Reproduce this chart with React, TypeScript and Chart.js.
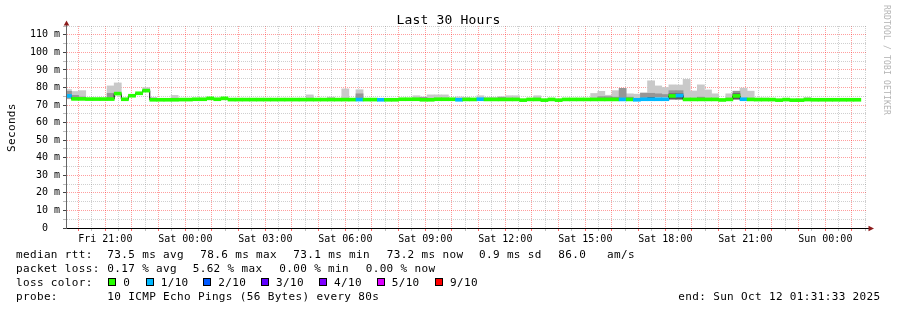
import React, { useEffect, useRef } from 'react';
import { Chart, registerables } from 'chart.js';

Chart.register(...registerables);

// ---------------- data ----------------
const TITLE = 'Last 30 Hours';
const Y_AXIS_TITLE = 'Seconds';
const WATERMARK = 'RRDTOOL / TOBI OETIKER';

// times in seconds since Fri 00:00
const WINDOW_START_S = 19 * 3600 + 31 * 60 + 33; // Fri 19:31:33
const WINDOW_HOURS = 30;
const STEP_S = 960; // one consolidated sample = 16 min
const FIRST_STEP_END_S = 19 * 3600 + 44 * 60; // Fri 19:44:00
const FIRST_TICK_S = 20 * 3600; // Fri 20:00
const TICK_EVERY_S = 1800;
const FIRST_LABEL_S = 21 * 3600; // Fri 21:00
const LABEL_EVERY_S = 10800;

const xTickLabels = [
  'Fri 21:00', 'Sat 00:00', 'Sat 03:00', 'Sat 06:00', 'Sat 09:00',
  'Sat 12:00', 'Sat 15:00', 'Sat 18:00', 'Sat 21:00', 'Sun 00:00',
];

const Y_MAX = 115;
const Y_TICK_STEP = 5;
const Y_LABEL_STEP = 10;

// median rtt per sample (ms)
const medianRtt: (number | null)[] = [
  75.2, 73.5, 73.5, 73.4, 73.4, 73.4, 73.4, 76.5, 73.3, 75.3,
  76.7, 78.2, 73.0, 73.0, 73.0, 73.0, 73.1, 73.1, 73.3, 73.3,
  73.8, 73.3, 73.8, 73.1, 73.1, 73.1, 73.1, 73.1, 73.1, 73.1,
  73.1, 73.1, 73.1, 73.1, 73.1, 73.1, 73.1, 73.1, 73.1, 73.1,
  73.1, 73.1, 73.1, 73.1, 73.0, 73.0, 73.0, 73.3, 73.3, 73.3,
  73.0, 73.0, 73.3, 73.3, 73.3, 73.0, 73.2, 73.2, 73.3, 73.2,
  73.2, 73.2, 73.2, 73.2, 72.8, 73.2, 73.2, 72.8, 73.2, 72.8,
  73.2, 73.2, 73.2, 73.2, 73.2, 73.2, 73.2, 73.2, 73.2, 73.2,
  73.0, 73.3, 73.3, 73.3, 73.3, 75.2, 75.4, 73.2, 73.2, 73.2,
  73.2, 73.2, 72.9, 73.2, 75.2, 73.3, 73.2, 73.1, 73.1, 73.1,
  72.8, 73.1, 72.8, 72.8, 73.1, 73.0, 73.0, 73.0, 73.0, 73.0,
  73.0, 73.0, null,
];

// lost pings (of 10) per sample
const lossCount: (number | null)[] = [
  1, 0, 0, 0, 0, 0, 0, 0, 0, 0,
  0, 0, 0, 0, 0, 0, 0, 0, 0, 0,
  0, 0, 0, 0, 0, 0, 0, 0, 0, 0,
  0, 0, 0, 0, 0, 0, 0, 0, 0, 0,
  0, 1, 0, 0, 1, 0, 0, 0, 0, 0,
  0, 0, 0, 0, 0, 1, 0, 0, 1, 0,
  0, 0, 0, 0, 0, 0, 0, 0, 0, 0,
  0, 0, 0, 0, 0, 0, 0, 0, 1, 0,
  1, 1, 1, 1, 1, 0, 1, 0, 0, 0,
  0, 0, 0, 0, 0, 1, 0, 0, 0, 0,
  0, 0, 0, 0, 0, 0, 0, 0, 0, 0,
  0, 0, null,
];

// smoke: [sample, low ms, high ms]
const smokeOuter: [number, number, number][] = [
  [0, 73.5, 78.8], [1, 73.3, 77.7], [2, 73.3, 78.2], [6, 73.5, 80.9], [7, 77.0, 82.6],
  [11, 78.1, 79.9], [12, 73.0, 74.4], [15, 73.2, 75.5], [34, 73.3, 75.8], [37, 73.3, 74.5],
  [39, 73.3, 79.2], [41, 73.3, 78.7], [49, 73.3, 75.3], [50, 73.3, 74.6], [51, 73.3, 75.8],
  [52, 73.3, 75.8], [53, 73.3, 75.8], [55, 73.3, 74.6], [56, 73.3, 74.3], [58, 73.3, 75.3],
  [59, 73.3, 74.4], [60, 73.3, 74.4], [61, 73.3, 74.8], [62, 73.3, 75.3], [63, 73.3, 75.3],
  [66, 73.3, 75.3], [74, 73.3, 76.6], [75, 73.3, 77.8], [76, 73.3, 75.6], [77, 73.3, 78.2],
  [79, 74.5, 76.4], [80, 73.3, 76.2], [81, 73.3, 77.0], [82, 76.7, 83.8], [83, 76.4, 80.9],
  [84, 76.0, 80.0], [85, 78.2, 81.5], [86, 78.2, 81.4], [87, 73.9, 84.6], [88, 74.0, 78.0],
  [89, 74.0, 81.5], [90, 74.0, 78.6], [91, 73.7, 76.4], [93, 73.7, 76.4], [95, 74.0, 79.6],
  [96, 74.0, 77.9], [97, 73.3, 74.0], [98, 73.3, 74.0], [104, 73.3, 74.3],
];
const smokeMiddle: [number, number, number][] = [
  [0, 73.8, 77.8], [1, 73.3, 75.5], [2, 73.3, 74.6], [6, 73.5, 76.7], [41, 73.3, 76.4],
  [50, 73.3, 74.3], [61, 73.3, 74.3], [75, 73.3, 74.8], [76, 73.3, 74.8], [77, 73.3, 74.5],
  [78, 73.3, 79.5], [79, 73.3, 74.5], [81, 74.3, 76.7], [82, 74.4, 76.7], [83, 74.5, 76.4],
  [84, 74.5, 76.0], [85, 76.4, 78.2], [86, 76.4, 78.2], [89, 73.5, 74.5], [94, 76.5, 77.9],
];
const smokeInner: [number, number, number][] = [
  [82, 73.6, 74.4], [85, 73.3, 76.4], [86, 73.3, 76.4], [94, 73.3, 76.5],
];

const lossLegend = [
  { label: '0', min: 0, color: '#26ff00' },
  { label: '1/10', min: 1, color: '#00b8ff' },
  { label: '2/10', min: 2, color: '#0059ff' },
  { label: '3/10', min: 3, color: '#5e00ff' },
  { label: '4/10', min: 4, color: '#7e00ff' },
  { label: '5/10', min: 5, color: '#dd00ff' },
  { label: '9/10', min: 9, color: '#ff0000' },
];

const rttStats = ['73.5 ms avg', '78.6 ms max', '73.1 ms min', '73.2 ms now', '0.9 ms sd', '86.0   am/s'];
const lossStats = ['0.17 % avg', '5.62 % max', '0.00 % min', '0.00 % now'];
const PROBE_TEXT = '10 ICMP Echo Pings (56 Bytes) every 80s';
const END_TEXT = 'end: Sun Oct 12 01:31:33 2025';

// ---------------- layout / style ----------------
const W = 897;
const H = 310;
const FONT = "'DejaVu Sans Mono', monospace";
const MAJOR_GRID = 'rgba(255,0,0,0.38)';
const MINOR_GRID = 'rgba(128,128,128,0.38)';
const LINE_HALF = 0.85; // half thickness of median line in ms
const rttX = [107.3, 200.3, 293.3, 386.7, 479, 558.3];
const lossX = [107.3, 192.7, 279.3, 365.7];
const legendLabelX = [123.3, 160.7, 218.3, 276, 334, 391.7, 450];
const rowBase = [258.4, 272.4, 286.4, 300.4];

function lossColor(n: number | null | undefined) {
  let c = lossLegend[0].color;
  for (const l of lossLegend) if ((n ?? 0) >= l.min) c = l.color;
  return c;
}

const sampleCenter = (j: number) =>
  (FIRST_STEP_END_S + STEP_S * j - STEP_S / 2 - WINDOW_START_S) / 3600;

const isHour = (v: number) => {
  const s = WINDOW_START_S + v * 3600;
  const r = ((s % 3600) + 3600) % 3600;
  return r < 1 || r > 3599;
};

const arrowPlugin = {
  id: 'rrdArrows',
  afterDraw(chart: any) {
    const { ctx, chartArea: a } = chart;
    ctx.save();
    ctx.lineWidth = 1;
    const x = Math.round(a.left) + 0.5;
    ctx.strokeStyle = '#666';
    ctx.beginPath();
    ctx.moveTo(x, a.top);
    ctx.lineTo(x, a.top - 2);
    ctx.stroke();
    ctx.fillStyle = '#8c1c1c';
    ctx.beginPath();
    ctx.moveTo(x, a.top - 5.5);
    ctx.lineTo(x - 2.8, a.top - 0.5);
    ctx.lineTo(x + 2.8, a.top - 0.5);
    ctx.closePath();
    ctx.fill();
    const y = Math.round(a.bottom) + 0.5;
    ctx.strokeStyle = '#000';
    ctx.beginPath();
    ctx.moveTo(a.right, y);
    ctx.lineTo(a.right + 3, y);
    ctx.stroke();
    ctx.beginPath();
    ctx.moveTo(a.right + 8, y);
    ctx.lineTo(a.right + 2.5, y - 2.8);
    ctx.lineTo(a.right + 2.5, y + 2.8);
    ctx.closePath();
    ctx.fill();
    ctx.restore();
  },
};

function Txt(props: { x: number; base: number; size: number; ls?: number; children: any; style?: any }) {
  const { x, base, size, ls = 0, children, style } = props;
  return (
    <div
      style={{
        position: 'absolute',
        left: x,
        top: base - 0.846 * size,
        fontSize: size,
        lineHeight: `${size}px`,
        letterSpacing: ls,
        whiteSpace: 'pre',
        fontFamily: FONT,
        color: '#000',
        ...style,
      }}
    >
      {children}
    </div>
  );
}

export default function App() {
  const ref = useRef<HTMLCanvasElement | null>(null);

  useEffect(() => {
    const canvas = ref.current;
    if (!canvas) return;

    const smokeData = (rows: [number, number, number][]) =>
      rows.map(([j, lo, hi]) => ({ x: sampleCenter(j), y: [lo, hi] }));

    const medianBars = medianRtt.flatMap((m, j) =>
      m == null ? [] : [{ x: sampleCenter(j), y: [m - LINE_HALF, m + LINE_HALF], j }]
    );
    const medianLine = medianRtt.map((m, j) => ({ x: sampleCenter(j), y: m }));

    const barCommon = {
      type: 'bar' as const,
      grouped: false,
      barPercentage: 1,
      categoryPercentage: 1,
      borderWidth: 0,
      clip: 0,
    };

    const chart = new Chart(canvas, {
      type: 'bar',
      data: {
        datasets: [
          {
            ...barCommon,
            label: 'median',
            data: medianBars as any,
            backgroundColor: (c: any) => lossColor(lossCount[c.raw?.j]),
            order: 0,
          },
          {
            type: 'line',
            label: 'median-step',
            data: medianLine as any,
            stepped: 'middle',
            borderColor: '#000',
            borderWidth: 1,
            pointRadius: 0,
            spanGaps: false,
            clip: 0,
            order: 1,
          } as any,
          { ...barCommon, label: 'smoke-inner', data: smokeData(smokeInner) as any, backgroundColor: '#5a5a5a', order: 2 },
          { ...barCommon, label: 'smoke-middle', data: smokeData(smokeMiddle) as any, backgroundColor: '#969696', order: 3 },
          { ...barCommon, label: 'smoke-outer', data: smokeData(smokeOuter) as any, backgroundColor: '#c9c9c9', order: 4 },
        ] as any,
      },
      options: {
        animation: false,
        responsive: false,
        devicePixelRatio: 1,
        events: [],
        layout: { padding: { left: 0, right: 31, top: 26, bottom: 0 }, autoPadding: false } as any,
        plugins: {
          legend: { display: false },
          tooltip: { enabled: false },
          title: { display: false },
        },
        scales: {
          x: {
            type: 'linear',
            min: 0,
            max: WINDOW_HOURS,
            offset: false,
            afterBuildTicks: (scale: any) => {
              const ticks: any[] = [];
              for (let s = FIRST_TICK_S; s < WINDOW_START_S + WINDOW_HOURS * 3600; s += TICK_EVERY_S) {
                ticks.push({ value: (s - WINDOW_START_S) / 3600 });
              }
              scale.ticks = ticks;
            },
            afterFit: (scale: any) => {
              scale.height = H - 228;
            },
            grid: {
              offset: false,
              color: (c: any) => (isHour(c.tick?.value ?? 0) ? MAJOR_GRID : MINOR_GRID),
              tickColor: (c: any) => (isHour(c.tick?.value ?? 0) ? 'rgba(255,0,0,0.6)' : 'rgba(128,128,128,0.5)'),
              lineWidth: 1,
              tickLength: 3,
              tickBorderDash: [],
            },
            border: { color: '#000', width: 1, dash: [1, 1], z: 1 } as any,
            ticks: {
              autoSkip: false,
              maxRotation: 0,
              minRotation: 0,
              padding: 2,
              color: '#000',
              font: { family: FONT, size: 10 },
              callback: (value: any) => {
                const s = WINDOW_START_S + Number(value) * 3600;
                const k = (s - FIRST_LABEL_S) / LABEL_EVERY_S;
                const r = Math.round(k);
                return Math.abs(k - r) < 1e-4 && r >= 0 && r < xTickLabels.length ? xTickLabels[r] : '';
              },
            },
          },
          y: {
            type: 'linear',
            min: 0,
            max: Y_MAX,
            afterFit: (scale: any) => {
              scale.width = 66;
            },
            grid: {
              color: (c: any) => ((c.tick?.value ?? 0) % Y_LABEL_STEP === 0 ? MAJOR_GRID : MINOR_GRID),
              tickColor: (c: any) => ((c.tick?.value ?? 0) % Y_LABEL_STEP === 0 ? '#444' : '#bbb'),
              lineWidth: 1,
              tickLength: 3,
              tickBorderDash: [],
            },
            border: { color: '#666', width: 1, dash: [1, 1], z: 1 } as any,
            ticks: {
              stepSize: Y_TICK_STEP,
              autoSkip: false,
              padding: 3,
              color: '#000',
              font: { family: FONT, size: 10 },
              callback: (value: any) => {
                const v = Number(value);
                if (v % Y_LABEL_STEP !== 0) return '';
                return v === 0 ? '0  ' : `${v} m`;
              },
            },
          },
        },
      } as any,
      plugins: [arrowPlugin],
    });

    return () => chart.destroy();
  }, []);

  return (
    <div
      style={{
        position: 'fixed',
        left: 0,
        top: 0,
        width: W,
        height: H,
        background: '#fff',
        overflow: 'hidden',
      }}
    >
      <canvas ref={ref} width={W} height={H} style={{ position: 'absolute', left: 0, top: 0, width: W, height: H }} />

      <Txt x={0} base={24} size={13} ls={0.17} style={{ width: W, textAlign: 'center' }}>
        {TITLE}
      </Txt>

      <div
        style={{
          position: 'absolute',
          left: 5.7,
          top: 151.7,
          transformOrigin: '0 0',
          transform: 'rotate(-90deg)',
          fontFamily: FONT,
          fontSize: 11,
          lineHeight: '11px',
          letterSpacing: 0.35,
          whiteSpace: 'pre',
          color: '#000',
        }}
      >
        {Y_AXIS_TITLE}
      </div>

      <div
        style={{
          position: 'absolute',
          left: 890.3,
          top: 5,
          transformOrigin: '0 0',
          transform: 'rotate(90deg)',
          fontFamily: FONT,
          fontSize: 8,
          lineHeight: '8px',
          letterSpacing: 0.18,
          whiteSpace: 'pre',
          color: '#b4b4b4',
        }}
      >
        {WATERMARK}
      </div>

      <Txt x={16} base={rowBase[0]} size={11} ls={0.35}>median rtt:</Txt>
      {rttStats.map((s, i) => (
        <Txt key={'r' + i} x={rttX[i]} base={rowBase[0]} size={11} ls={0.35}>
          {s}
        </Txt>
      ))}

      <Txt x={16} base={rowBase[1]} size={11} ls={0.35}>packet loss:</Txt>
      {lossStats.map((s, i) => (
        <Txt key={'l' + i} x={lossX[i]} base={rowBase[1]} size={11} ls={0.35}>
          {s}
        </Txt>
      ))}

      <Txt x={16} base={rowBase[2]} size={11} ls={0.35}>loss color:</Txt>
      {lossLegend.map((l, i) => (
        <React.Fragment key={'c' + i}>
          <div
            style={{
              position: 'absolute',
              left: Math.round(legendLabelX[i] - 15),
              top: 278,
              width: 8,
              height: 8,
              boxSizing: 'border-box',
              border: '1px solid #000',
              background: l.color,
            }}
          />
          <Txt x={legendLabelX[i]} base={rowBase[2]} size={11} ls={0.35}>
            {l.label}
          </Txt>
        </React.Fragment>
      ))}

      <Txt x={16} base={rowBase[3]} size={11} ls={0.35}>probe:</Txt>
      <Txt x={107.3} base={rowBase[3]} size={11} ls={0.35}>{PROBE_TEXT}</Txt>
      <Txt x={678.3} base={rowBase[3]} size={11} ls={0.35}>{END_TEXT}</Txt>
    </div>
  );
}
